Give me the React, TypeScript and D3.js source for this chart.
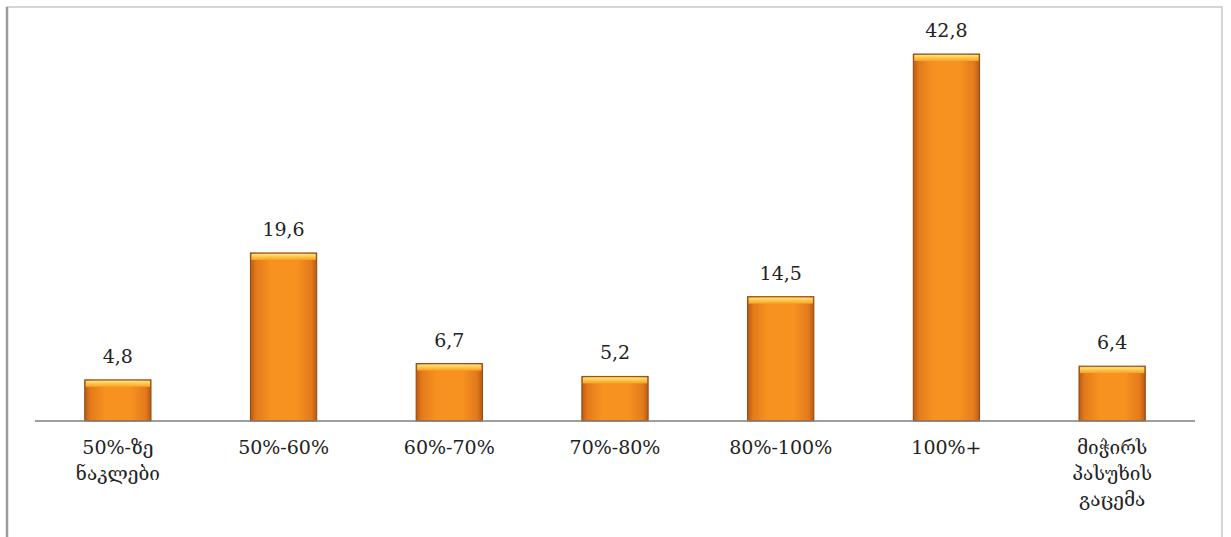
import React from "react";
import * as d3 from "d3";

const categories: string[][] = [
  ["50%-ზე", "ნაკლები"],
  ["50%-60%"],
  ["60%-70%"],
  ["70%-80%"],
  ["80%-100%"],
  ["100%+"],
  ["მიჭირს", "პასუხის", "გაცემა"],
];
const values: number[] = [4.8, 19.6, 6.7, 5.2, 14.5, 42.8, 6.4];
const valueLabels: string[] = ["4,8", "19,6", "6,7", "5,2", "14,5", "42,8", "6,4"];

const W = 1231;
const H = 537;
const axisY = 421;
const left = 35;
const right = 1195;

export default function App() {
  const x = d3
    .scaleBand<number>()
    .domain(values.map((_, i) => i))
    .range([left, right])
    .paddingInner(0.6)
    .paddingOuter(0.3);
  const y = d3.scaleLinear().domain([0, 42.8]).range([axisY, 54]);
  const font = "'DejaVu Serif', 'Liberation Serif', serif";
  return (
    <svg
      width={W}
      height={H}
      style={{ position: "absolute", left: 0, top: 0, background: "#fff" }}
    >
      <defs>
        <linearGradient id="barH" x1="0" x2="1" y1="0" y2="0">
          <stop offset="0" stopColor="#b85a12" />
          <stop offset="0.08" stopColor="#e27a1c" />
          <stop offset="0.3" stopColor="#f7911f" />
          <stop offset="0.7" stopColor="#f7911f" />
          <stop offset="0.92" stopColor="#e27a1c" />
          <stop offset="1" stopColor="#b85a12" />
        </linearGradient>
        <linearGradient id="cap" x1="0" x2="0" y1="0" y2="1">
          <stop offset="0" stopColor="#fde68a" />
          <stop offset="0.5" stopColor="#fcc544" />
          <stop offset="1" stopColor="#f7a12a" />
        </linearGradient>
      </defs>
      <rect x={7} y={7} width={1215} height={540} fill="#fff" stroke="#c8c8c8" strokeWidth={1.5} />
      <line x1={7} x2={7} y1={7} y2={H} stroke="#9a9a9a" strokeWidth={2.5} />
      {values.map((v, i) => {
        const bx = x(i)!;
        const bw = x.bandwidth();
        const top = y(v);
        const h = axisY - top;
        return (
          <g key={i}>
            <rect x={bx} y={top} width={bw} height={h} fill="url(#barH)" stroke="#8e4a12" strokeWidth={1} />
            <rect x={bx + 1} y={top + 1} width={bw - 2} height={6} fill="url(#cap)" />
            <text
              x={bx + bw / 2}
              y={top - 17}
              textAnchor="middle"
              fontFamily={font}
              fontSize={19}
              fill="#222"
            >
              {valueLabels[i]}
            </text>
          </g>
        );
      })}
      <line x1={left} x2={right} y1={axisY} y2={axisY} stroke="#7f7f7f" strokeWidth={1.5} />
      {categories.map((lines, i) => (
        <text
          key={i}
          x={x(i)! + x.bandwidth() / 2}
          y={454}
          textAnchor="middle"
          fontFamily={font}
          fontSize={19}
          fill="#222"
        >
          {lines.map((l, j) => (
            <tspan key={j} x={x(i)! + x.bandwidth() / 2} dy={j === 0 ? 0 : 26}>
              {l}
            </tspan>
          ))}
        </text>
      ))}
    </svg>
  );
}
